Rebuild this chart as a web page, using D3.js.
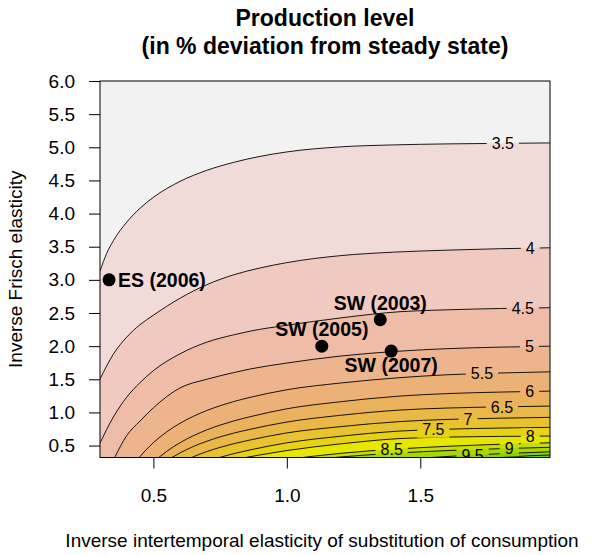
<!DOCTYPE html>
<html><head><meta charset="utf-8">
<script src="https://cdn.jsdelivr.net/npm/d3@7"></script>
<style>
body{margin:0;background:#fff}
text{font-family:"Liberation Sans",Arial,Helvetica,sans-serif}
</style>
</head><body>
<svg id="chart" width="595" height="555"></svg>
<script>
// ---------------- data ----------------
const titleLines = ["Production level", "(in % deviation from steady state)"];
const xLabel = "Inverse intertemporal elasticity of substitution of consumption";
const yLabel = "Inverse Frisch elasticity";
const xTicks = [0.5, 1.0, 1.5];
const yTicks = [0.5, 1.0, 1.5, 2.0, 2.5, 3.0, 3.5, 4.0, 4.5, 5.0, 5.5, 6.0];
const xDomain = [0.3, 1.986];
const yDomain = [0.32, 6.0];

// contour levels and their lines: [sigma, phi]
const levels = [3.5, 4, 4.5, 5, 5.5, 6, 6.5, 7, 7.5, 8, 8.5, 9, 9.5, 10];
const levelText = ["3.5","4","4.5","5","5.5","6","6.5","7","7.5","8","8.5","9","9.5",""];
const labelSigma = [1.809, 1.912, 1.884, 1.909, 1.731, 1.910, 1.806, 1.679, 1.549, 1.912, 1.393, 1.833, 1.696, null];

const c35 = [[0.3,3.13],[0.325,3.40],[0.35,3.59],[0.4,3.87],[0.45,4.08],[0.5,4.245],[0.6,4.486],[0.7,4.652],[0.8,4.772],[0.9,4.863],[1.0,4.930],[1.2,5.006],[1.4,5.036],[1.6,5.051],[1.8,5.059],[1.99,5.066]];
const c40 = [[0.3,1.503],[0.35,1.879],[0.4,2.136],[0.45,2.324],[0.5,2.467],[0.6,2.723],[0.7,2.927],[0.8,3.075],[0.9,3.18],[1.0,3.26],[1.2,3.365],[1.4,3.418],[1.6,3.448],[1.8,3.47],[1.99,3.484]];
const c45 = [[0.3,0.538],[0.35,0.93],[0.4,1.23],[0.45,1.45],[0.5,1.63],[0.6,1.885],[0.7,2.06],[0.8,2.17],[0.862,2.226],[1.0,2.315],[1.2,2.425],[1.424,2.52],[1.6,2.548],[1.8,2.568],[1.99,2.58]];
const c50 = [[0.355,0.32],[0.4,0.65],[0.45,0.87],[0.5,1.07],[0.6,1.37],[0.7,1.50],[0.8,1.60],[0.862,1.655],[1.0,1.745],[1.2,1.85],[1.424,1.925],[1.6,1.962],[1.8,1.985],[1.99,2.0]];
const c55 = [[0.447,0.32],[0.47,0.425],[0.5,0.544],[0.55,0.707],[0.6,0.837],[0.65,0.942],[0.7,1.029],[0.75,1.101],[0.8,1.163],[0.862,1.227],[1.0,1.342],[1.2,1.443],[1.424,1.525],[1.6,1.568],[1.8,1.595],[1.99,1.613]];
const c60 = [[0.52,0.32],[0.55,0.413],[0.6,0.5435],[0.65,0.649],[0.7,0.7365],[0.75,0.809],[0.8,0.8705],[0.862,0.935],[1.0,1.055],[1.2,1.161],[1.424,1.247],[1.6,1.284],[1.8,1.307],[1.99,1.322]];
const c65 = [[0.569,0.32],[0.6,0.39],[0.65,0.486],[0.7,0.565],[0.75,0.631],[0.8,0.687],[0.862,0.745],[1.0,0.855],[1.2,0.956],[1.424,1.036],[1.6,1.066],[1.8,1.084],[1.99,1.096]];
const c70 = [[0.643,0.32],[0.65,0.332],[0.7,0.409],[0.75,0.473],[0.8,0.527],[0.862,0.584],[1.0,0.691],[1.2,0.785],[1.424,0.862],[1.6,0.894],[1.8,0.913],[1.99,0.926]];
const c75 = [[0.747,0.32],[0.75,0.323],[0.8,0.377],[0.862,0.434],[1.0,0.541],[1.2,0.640],[1.424,0.719],[1.6,0.747],[1.8,0.764],[1.99,0.775]];
const c80 = [[0.846,0.32],[0.862,0.332],[0.9,0.359],[1.0,0.425],[1.2,0.525],[1.424,0.606],[1.6,0.628],[1.8,0.638],[1.99,0.644]];
const c85 = [[1.059,0.32],[1.1,0.34],[1.2,0.3825],[1.4,0.445],[1.6,0.4885],[1.8,0.52],[1.99,0.543]];
const c90 = [[1.179,0.32],[1.2,0.3274],[1.3,0.3587],[1.424,0.39],[1.6,0.4243],[1.8,0.4534],[1.99,0.474]];
const c95 = [[1.541,0.32],[1.6,0.335],[1.7,0.3575],[1.8,0.377],[1.99,0.407]];
const c100 = [[1.80,0.32],[1.9,0.345],[1.99,0.358]];
const contourLines = [c35,c40,c45,c50,c55,c60,c65,c70,c75,c80,c85,c90,c95,c100];

// estimated studies
const studies = ["ES (2006)", "SW (2003)", "SW (2005)", "SW (2007)"];
const studySigma = [0.334, 1.35, 1.131, 1.391];
const studyPhi = [3.0, 2.4, 2.0, 1.925];
const studyLabelPos = ["right", "above", "above", "below"];

// ---------------- palette (R terrain.colors, reversed) ----------------
function hsv(h, s, v) {
  const i = Math.floor(h * 6) % 6, f = h * 6 - Math.floor(h * 6);
  const p = v * (1 - s), q = v * (1 - f * s), t = v * (1 - (1 - f) * s);
  const m = [[v,t,p],[q,v,p],[p,v,t],[p,q,v],[t,p,v],[v,p,q]][i];
  return d3.rgb(m[0]*255, m[1]*255, m[2]*255).formatHex();
}
function terrainColors(n) {
  const k = Math.floor(n / 2), H = [4/12, 2/12, 0], S = [1, 1, 0], V = [0.65, 0.9, 0.95];
  const out = [];
  for (let m = 0; m < k; m++) { const f = k > 1 ? m / (k - 1) : 0;
    out.push(hsv(H[0] + (H[1]-H[0])*f, S[0] + (S[1]-S[0])*f, V[0] + (V[1]-V[0])*f)); }
  for (let m = 1; m <= n - k; m++) { const f = m / (n - k);
    out.push(hsv(H[1] + (H[2]-H[1])*f, S[1] + (S[2]-S[1])*f, V[1] + (V[2]-V[1])*f)); }
  return out;
}
const bandColors = terrainColors(20).reverse();

// ---------------- drawing ----------------
const svg = d3.select("#chart");
const x = d3.scaleLinear().domain(xDomain).range([100, 550]);
const y = d3.scaleLinear().domain(yDomain).range([457.5, 81]);
const [X0, X1] = x.range(), [Y0, Y1] = y.range();

const defs = svg.append("defs");
defs.append("clipPath").attr("id", "plotclip")
  .append("rect").attr("x", X0).attr("y", Y1).attr("width", X1 - X0).attr("height", Y0 - Y1);

const plot = svg.append("g").attr("clip-path", "url(#plotclip)");
plot.append("rect").attr("x", X0).attr("y", Y1).attr("width", X1 - X0).attr("height", Y0 - Y1)
  .attr("fill", bandColors[0]);

const area = d3.area().x(d => x(d[0])).y0(Y0 + 2).y1(d => y(d[1])).curve(d3.curveMonotoneX);
const line = d3.line().x(d => x(d[0])).y(d => y(d[1])).curve(d3.curveMonotoneX);

contourLines.forEach((pts, k) => {
  plot.append("path").attr("d", area(pts)).attr("fill", bandColors[k + 1]);
});

// label gap mask
const mask = defs.append("mask").attr("id", "gapmask").attr("maskUnits", "userSpaceOnUse")
  .attr("x", 0).attr("y", 0).attr("width", 595).attr("height", 555);
mask.append("rect").attr("x", 0).attr("y", 0).attr("width", 595).attr("height", 555).attr("fill", "#fff");

const linesG = plot.append("g").attr("mask", "url(#gapmask)");
contourLines.forEach(pts => {
  linesG.append("path").attr("d", line(pts)).attr("fill", "none")
    .attr("stroke", "#000").attr("stroke-width", 0.9);
});

function phiAt(pts, s) {
  for (let i = 1; i < pts.length; i++) {
    if (s <= pts[i][0]) {
      const a = pts[i-1], b = pts[i], t = (s - a[0]) / (b[0] - a[0]);
      return a[1] + t * (b[1] - a[1]);
    }
  }
  return pts[pts.length - 1][1];
}

const labG = plot.append("g");
levels.forEach((lv, k) => {
  if (labelSigma[k] == null || !levelText[k]) return;
  const px = x(labelSigma[k]), py = y(phiAt(contourLines[k], labelSigma[k]));
  const t = labG.append("text").attr("x", px).attr("y", py).attr("dy", "0.36em")
    .attr("text-anchor", "middle").attr("font-size", 16).attr("fill", "#000").text(levelText[k]);
  const w = t.node().getComputedTextLength();
  mask.append("rect").attr("x", px - w / 2 - 5).attr("y", py - 8).attr("width", w + 10)
    .attr("height", 16).attr("fill", "#000");
});

// box
svg.append("rect").attr("x", X0).attr("y", Y1).attr("width", X1 - X0).attr("height", Y0 - Y1)
  .attr("fill", "none").attr("stroke", "#000").attr("stroke-width", 1);

// axes
const xAxis = svg.append("g").attr("transform", `translate(0,${Y0})`)
  .call(d3.axisBottom(x).tickValues(xTicks).tickFormat(d3.format(".1f")).tickSize(11).tickSizeOuter(0).tickPadding(20));
const yAxis = svg.append("g").attr("transform", `translate(${X0},0)`)
  .call(d3.axisLeft(y).tickValues(yTicks).tickFormat(d3.format(".1f")).tickSize(11).tickSizeOuter(0).tickPadding(14));
[xAxis, yAxis].forEach(g => {
  g.select(".domain").remove();
  g.selectAll("text").attr("font-size", 19).attr("fill", "#000")
    .attr("font-family", '"Liberation Sans",Arial,sans-serif');
  g.selectAll("line").attr("stroke", "#000");
});

// points
const ptG = svg.append("g");
studies.forEach((name, i) => {
  const px = x(studySigma[i]), py = y(studyPhi[i]);
  ptG.append("circle").attr("cx", px).attr("cy", py).attr("r", 6.5).attr("fill", "#000");
  const t = ptG.append("text").attr("font-size", 19.5).attr("font-weight", "bold").attr("fill", "#000").text(name);
  const pos = studyLabelPos[i];
  if (pos === "right") t.attr("x", px + 9).attr("y", py).attr("dy", "0.36em").attr("text-anchor", "start");
  else if (pos === "above") t.attr("x", px).attr("y", py - 17).attr("dy", "0.36em").attr("text-anchor", "middle");
  else t.attr("x", px).attr("y", py + 14).attr("dy", "0.36em").attr("text-anchor", "middle");
});

// titles
const cx = (X0 + X1) / 2;
svg.append("text").attr("x", cx).attr("y", 26).attr("text-anchor", "middle")
  .attr("font-size", 23).attr("font-weight", "bold").text(titleLines[0]);
svg.append("text").attr("x", cx).attr("y", 54).attr("text-anchor", "middle")
  .attr("font-size", 23).attr("font-weight", "bold").text(titleLines[1]);
svg.append("text").attr("x", cx - 3).attr("y", 547).attr("text-anchor", "middle")
  .attr("font-size", 19).text(xLabel);
svg.append("text").attr("transform", `translate(22,${(Y0 + Y1) / 2}) rotate(-90)`)
  .attr("text-anchor", "middle").attr("font-size", 19).text(yLabel);
</script>
</body></html>
